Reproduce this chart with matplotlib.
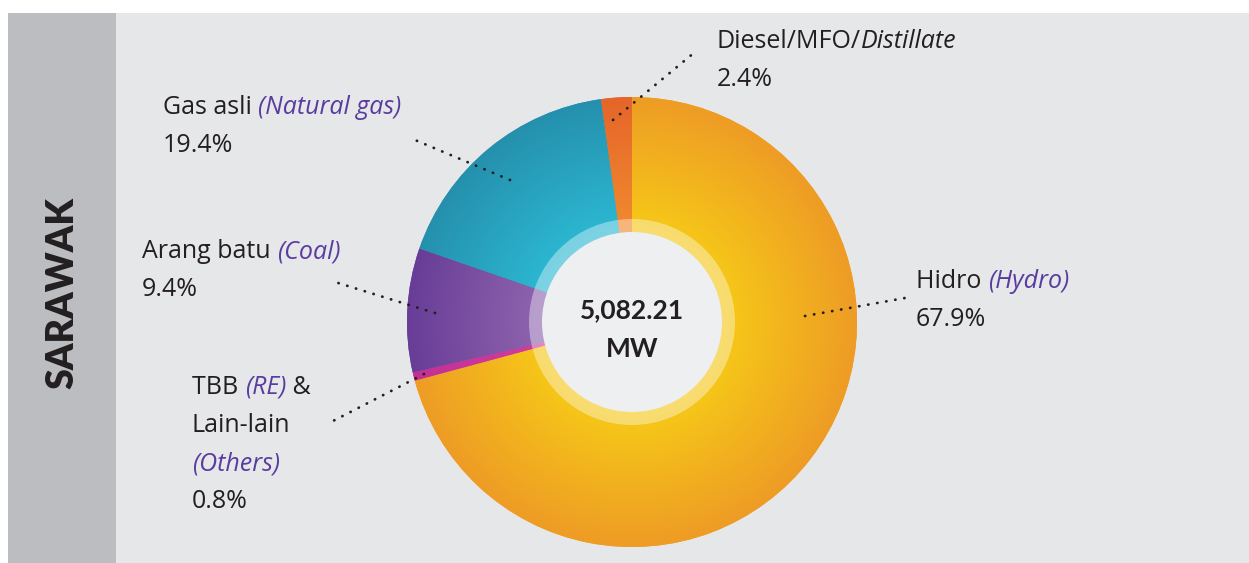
import numpy as np
import matplotlib
matplotlib.use("Agg")
import matplotlib.pyplot as plt
from matplotlib.patches import Rectangle, Circle
from matplotlib.colors import to_rgb

# ---- data ----
categories = ["Hidro", "TBB & Lain-lain", "Arang batu", "Gas asli", "Diesel/MFO/Distillate"]
share_labels = ["67.9%", "0.8%", "9.4%", "19.4%", "2.4%"]
# slice sizes as drawn in the picture (angular share, %)
slice_shares_drawn = [70.8, 0.6, 8.9, 17.5, 2.2]
total_text = "5,082.21"
unit_text = "MW"
region = "SARAWAK"

inner_cols = ["#f6c818", "#d23d9e", "#8e64ae", "#2cb8d2", "#f08a2e"]
outer_cols = ["#ee9c25", "#c42f94", "#683d97", "#2590ae", "#e6652a"]

W, H = 1249, 563
fig = plt.figure(figsize=(W / 100, H / 100), dpi=100)
ax = fig.add_axes([0, 0, 1, 1])
fig.patch.set_facecolor("white")

def Y(py):
    return H - py

# panels
ax.add_patch(Rectangle((8, 0), 1249 - 8, Y(13), facecolor="#e6e7e8", edgecolor="none", zorder=0))
ax.add_patch(Rectangle((8, 0), 108, Y(13), facecolor="#bcbdc0", edgecolor="none", zorder=1))
ax.text(62, Y(293), region, rotation=90, ha="center", va="center", fontsize=27,
        fontweight="heavy", family=["Lato", "DejaVu Sans"], color="#231f20", zorder=2)

cx, cy, R = 632, Y(322), 225
wedges, _ = ax.pie(slice_shares_drawn, center=(cx, cy), radius=R, startangle=90,
                   counterclock=False, wedgeprops=dict(linewidth=0), frame=False)
ax.set_xlim(0, W)
ax.set_ylim(0, H)
ax.set_aspect("equal")
ax.axis("off")

# radial gradients clipped to wedges
n = 500
xs = np.linspace(cx - R, cx + R, n)
ys = np.linspace(cy - R, cy + R, n)
XX, YY = np.meshgrid(xs, ys)
rr = np.sqrt((XX - cx) ** 2 + (YY - cy) ** 2) / R
t = np.clip((rr - 0.42) / 0.58, 0, 1)[..., None]
for w, ci, co in zip(wedges, inner_cols, outer_cols):
    w.set_facecolor(co)
    w.set_zorder(3)
    a = np.array(to_rgb(ci)); b = np.array(to_rgb(co))
    img = a * (1 - t) + b * t
    im = ax.imshow(img, extent=(cx - R, cx + R, cy - R, cy + R), origin="lower",
                   zorder=4, interpolation="bilinear")
    im.set_clip_path(w)
ax.set_xlim(0, W)
ax.set_ylim(0, H)

ax.add_patch(Circle((cx, cy), 103, facecolor="white", alpha=0.38, edgecolor="none", zorder=5))
ax.add_patch(Circle((cx, cy), 90, facecolor="#eeeff1", edgecolor="none", zorder=6))
ax.text(cx, Y(310), total_text, ha="center", va="center", fontsize=19, fontweight="bold",
        family=["Lato", "DejaVu Sans"], color="#231f20", zorder=7)
ax.text(cx, Y(349), unit_text, ha="center", va="center", fontsize=19, fontweight="bold",
        family=["Lato", "DejaVu Sans"], color="#231f20", zorder=7)

# leader lines (pixel coords)
leaders = [
    ((805, 316), (905, 298)),
    ((424, 374), (333, 421)),
    ((435, 313), (335, 282)),
    ((510, 180), (415, 140)),
    ((613, 120), (695, 52)),
]
for (x0, y0), (x1, y1) in leaders:
    ax.plot([x0, x1], [Y(y0), Y(y1)], color="#231f20", linewidth=2.0,
            linestyle=(0, (0.1, 3.2)), dash_capstyle="round", zorder=8)

FS = 18
fam = ["Open Sans", "DejaVu Sans"]
dark = "#231f20"
purple = "#5a3ca0"
renderer = fig.canvas.get_renderer()

def line(x, py, parts):
    cur = x
    for txt, col, sty in parts:
        tt = ax.text(cur, Y(py), txt, ha="left", va="center", fontsize=FS, color=col,
                     style=sty, family=fam, fontweight="normal", zorder=9)
        bb = tt.get_window_extent(renderer=renderer)
        cur += bb.width

line(717, 42, [("Diesel/MFO/", dark, "normal"), ("Distillate", dark, "italic")])
line(717, 80, [(share_labels[4], dark, "normal")])
line(163, 108, [("Gas asli ", dark, "normal"), ("(Natural gas)", purple, "italic")])
line(163, 146, [(share_labels[3], dark, "normal")])
line(142, 252, [("Arang batu ", dark, "normal"), ("(Coal)", purple, "italic")])
line(142, 290, [(share_labels[2], dark, "normal")])
line(192, 387, [("TBB ", dark, "normal"), ("(RE)", purple, "italic"), (" &", dark, "normal")])
line(192, 426, [("Lain-lain", dark, "normal")])
line(192, 464, [("(Others)", purple, "italic")])
line(192, 501, [(share_labels[1], dark, "normal")])
line(916, 282, [("Hidro ", dark, "normal"), ("(Hydro)", purple, "italic")])
line(916, 320, [(share_labels[0], dark, "normal")])

fig.savefig("out.png", dpi=100, facecolor="white")
